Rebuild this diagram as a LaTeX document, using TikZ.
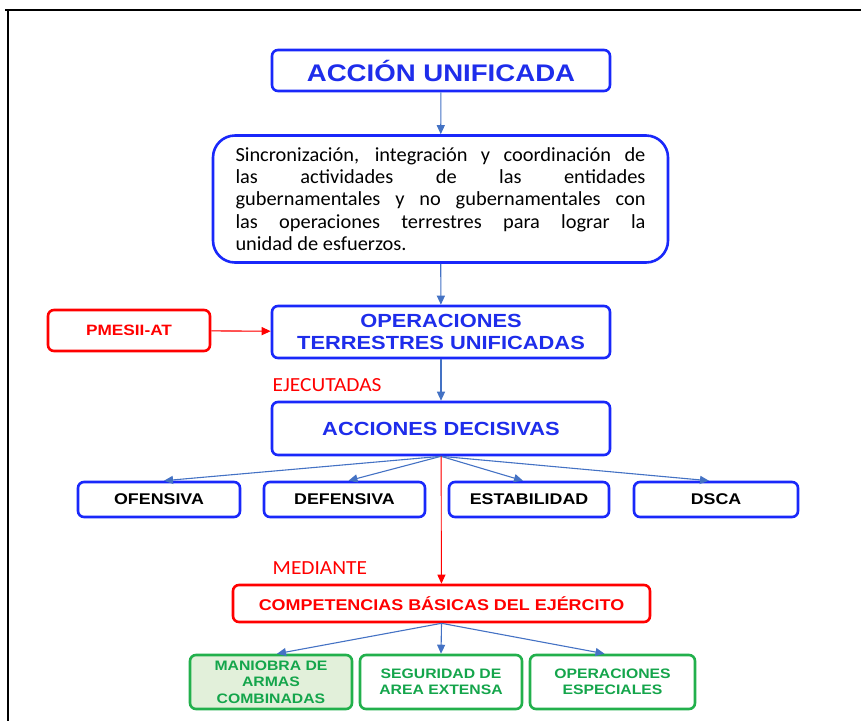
\documentclass[tikz,border=0pt]{standalone}
\usepackage{fontspec}
\setmainfont{Carlito}
\newfontfamily\hfont[FakeStretch=1.15]{Liberation Sans}
\newfontfamily\bfont[FakeStretch=1.02]{Carlito}
\newfontfamily\cfont[FakeStretch=1.07]{Carlito}
\usetikzlibrary{arrows.meta}
\definecolor{bbord}{RGB}{25,40,250}
\definecolor{btext}{RGB}{30,45,235}
\definecolor{arrowc}{RGB}{68,114,196}
\definecolor{rred}{RGB}{255,0,0}
\definecolor{gbord}{RGB}{34,176,76}
\definecolor{gtext}{RGB}{20,165,75}
\definecolor{gfill}{RGB}{226,240,218}
\tikzset{
  box/.style={draw=bbord, line width=2.6pt, rounded corners=6pt, inner sep=0pt, align=center, fill=white},
  redbox/.style={box, draw=rred, text=rred},
  greenbox/.style={box, draw=gbord, text=gtext},
  conn/.style={draw=arrowc, line width=1.1pt, -{Triangle[length=9pt,width=8pt]}},
  redconn/.style={conn, draw=rred, fill=rred},
  lbl/.style={inner sep=0pt, anchor=west, text=rred},
}
\newcommand{\jl}[1]{\makebox[410pt][s]{#1}}
\begin{document}
\begin{tikzpicture}[x=1pt,y=-1pt]
\useasboundingbox (0,0) rectangle (861,721);
% frame
\draw[line width=2.4pt] (5,10) -- (861,10);
\draw[line width=2pt] (8,10) -- (8,721);

\node[box, minimum width=338, minimum height=41, text=btext,
      font=\hfont\bfseries\fontsize{24}{28}\selectfont] (au) at (441,70.5) {ACCIÓN UNIFICADA};

\node[box, rounded corners=22pt, minimum width=455, minimum height=127, align=left,
      font=\bfont\fontsize{20}{22.4}\selectfont] (txt) at (440.5,199)
  {\jl{Sincronización, integración y coordinación de}\\
   \jl{las actividades de las entidades}\\
   \jl{gubernamentales y no gubernamentales con}\\
   \jl{las operaciones terrestres para lograr la}\\
   \makebox[410pt][l]{unidad de esfuerzos.}};

\node[box, minimum width=338, minimum height=52, text=btext,
      font=\hfont\bfseries\fontsize{19}{21.5}\selectfont] (ops) at (441,332)
  {OPERACIONES\\TERRESTRES UNIFICADAS};

\node[redbox, minimum width=162, minimum height=41,
      font=\hfont\bfseries\fontsize{15}{18}\selectfont] (pm) at (129,330.5) {PMESII-AT};

\node[box, minimum width=338, minimum height=53, text=btext,
      font=\hfont\bfseries\fontsize{19}{22}\selectfont] (ad) at (441,428.5) {ACCIONES DECISIVAS};

\node[lbl, font=\cfont\fontsize{20}{22}\selectfont] (ej) at (272.5,385) {EJECUTADAS};

\tikzset{small/.style={box, minimum height=35, font=\hfont\bfseries\fontsize{15.5}{18}\selectfont}}
\node[small, minimum width=162] (of) at (159,499.5) {OFENSIVA};
\node[small, minimum width=161] (de) at (344.5,499.5) {DEFENSIVA};
\node[small, minimum width=160] (es) at (529,499.5) {ESTABILIDAD};
\node[small, minimum width=164] (ds) at (716,499.5) {DSCA};

\node[lbl, font=\cfont\fontsize{20}{22}\selectfont] (me) at (272.5,568.5) {MEDIANTE};

\node[redbox, minimum width=417, minimum height=37,
      font=\hfont\bfseries\fontsize{15.6}{18}\selectfont] (cb) at (441.5,603.5)
  {COMPETENCIAS BÁSICAS DEL EJÉRCITO};

\tikzset{gb/.style={greenbox, minimum height=54, font=\hfont\bfseries\fontsize{13.7}{16.5}\selectfont}}
\node[gb, fill=gfill, minimum width=162] (g1) at (271,682) {MANIOBRA DE\\ARMAS\\COMBINADAS};
\node[gb, minimum width=162] (g2) at (441,682) {SEGURIDAD DE\\AREA EXTENSA};
\node[gb, minimum width=165] (g3) at (612.5,682) {OPERACIONES\\ESPECIALES};

% connectors
\draw[conn] (au) -- (txt);
\draw[conn] (txt) -- (ops);
\draw[redconn] (pm) -- (ops);
\draw[conn] (ops) -- (ad);
\draw[conn] (ad.south) -- ([xshift=5pt]of.north);
\draw[conn] (ad.south) -- ([xshift=4pt]de.north);
\draw[conn] (ad.south) -- ([xshift=-6pt]es.north);
\draw[conn] (ad.south) -- ([xshift=-7pt]ds.north);
\draw[redconn, line width=0.9pt] (ad) -- (cb);
\draw[conn] (cb.south) -- ([xshift=6pt]g1.north);
\draw[conn] (cb.south) -- (g2.north);
\draw[conn] (cb.south) -- ([xshift=-8pt]g3.north);
\end{tikzpicture}
\end{document}
